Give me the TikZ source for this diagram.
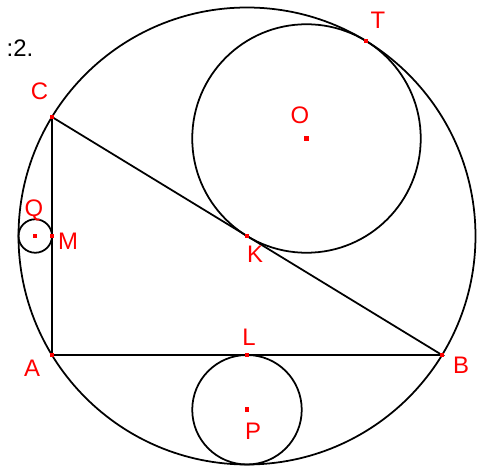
\documentclass[tikz,border=0pt]{standalone}
\usepackage{xcolor}
\usepackage{tikz}
\usepackage{fontspec}
\setmainfont{Liberation Sans}

\tikzset{
  dot/.style={fill=red, inner sep=0pt, minimum size=0.09cm},
  lbl/.style={text=red, inner sep=0pt, font=\fontsize{13.6}{16}\selectfont}
}

\begin{document}
\begin{tikzpicture}[line width=1pt]
                \useasboundingbox (-4.94,-4.6) rectangle (4.66,4.72);
                % points of the figure, K is the centre of the big circle
                \coordinate (K) at (0,0);
                \coordinate (A) at (-3.9,-2.38);
                \coordinate (B) at (3.9,-2.38);
                \coordinate (C) at (-3.9,2.38);
                \coordinate (M) at (-3.9,0);
                \coordinate (L) at (0,-2.38);
                \coordinate (Q) at (-4.235,0);
                \coordinate (P) at (0,-3.475);
                \coordinate (O) at (1.19,1.95);
                \coordinate (T) at (2.38,3.9);
                % triangle and circles
                \draw (A) -- (B) -- (C) -- cycle;
                \draw (K) circle (4.57);
                \draw (O) circle (2.285);
                \draw (P) circle (1.095);
                \draw (Q) circle (0.335);
                % dots
                \foreach \p in {A,B,C,M,L,Q,P,O,T,K}
                  \node[dot] at (\p) {};
                % labels
                \node[font=\fontsize{13.6}{16}\selectfont, inner sep=0pt] (num) at (-4.54,3.76) {:2.};
                \node[lbl] (lA) at (-4.3,-2.64) {A};
                \node[lbl] (lB) at (4.28,-2.58) {B};
                \node[lbl] (lC) at (-4.15,2.9) {C};
                \node[lbl] (lQ) at (-4.26,0.52) {Q};
                \node[lbl] (lM) at (-3.58,-0.1) {M};
                \node[lbl] (lL) at (0.04,-2.02) {L};
                \node[lbl] (lP) at (0.12,-3.9) {P};
                \node[lbl] (lT) at (2.62,4.32) {T};
                \node[lbl] (lO) at (1.06,2.42) {O};
                \node[lbl] (lK) at (0.16,-0.36) {K};
            \end{tikzpicture}
\end{document}
